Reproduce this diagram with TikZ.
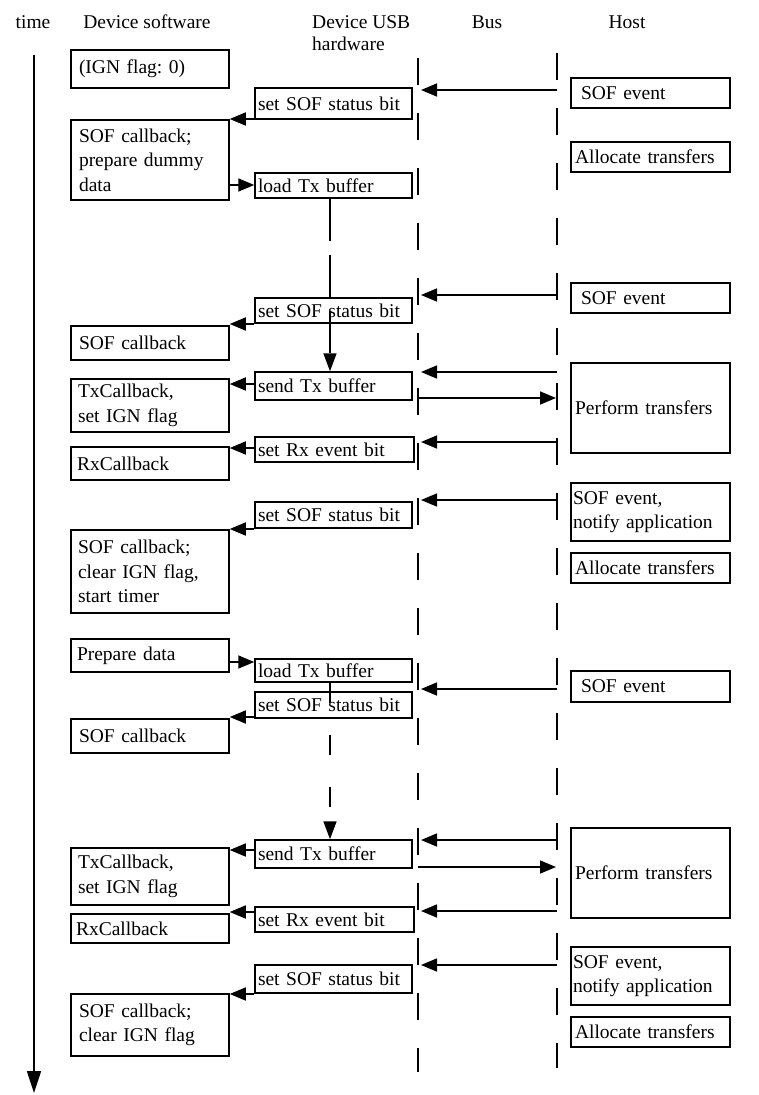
\documentclass[tikz,border=0pt]{standalone}
\usepackage{fontspec}
\setmainfont{Liberation Serif}
\frenchspacing
\usetikzlibrary{arrows.meta}
\tikzset{
  box/.style={draw, line width=1.5pt, inner ysep=0pt, align=left,
    font=\fontsize{19.5}{24.5}\selectfont},
  hdr/.style={font=\fontsize{19.5}{24}\selectfont, inner sep=0pt},
  arr/.style={line width=1.6pt, -{Triangle[length=16pt,width=13pt]}},
  life/.style={line width=1.7pt, dash pattern=on 27pt off 28pt},
}
\newcommand\bx[7]{%
  \pgfmathsetmacro\bxw{#4-#2}%
  \pgfmathsetmacro\bxh{#5-#3}%
  \pgfmathsetmacro\bxt{#4-#2-2*#6}%
  \node[box, inner xsep=#6pt, minimum width=\bxw pt, minimum height=\bxh pt,
    text width=\bxt pt] (#1) at ({(#2+#4)/2},{(#3+#5)/2}) {#7};}
\begin{document}
\begin{tikzpicture}[x=1pt,y=-1pt]
\useasboundingbox[fill=white] (0,0) rectangle (758,1095);

% headers
\node[hdr, anchor=base] (htime) at (33,28) {time};
\node[hdr, anchor=base] (hsw) at (147,28) {Device software};
\node[hdr, anchor=base west] (husb1) at (312,28) {Device USB};
\node[hdr, anchor=base west] (husb2) at (312,50) {hardware};
\node[hdr, anchor=base] (hbus) at (487,28) {Bus};
\node[hdr, anchor=base] (hhost) at (627,28) {Host};

% time axis
\coordinate (t0) at (34,55);
\coordinate (t1) at (34,1093);
\draw[line width=1.7pt, -{Triangle[length=22pt,width=14pt]}] (t0) -- (t1);

% lifelines
\coordinate (bl0) at (418,58);
\coordinate (bl1) at (418,1072);
\coordinate (br0) at (557,53);
\coordinate (br1) at (557,1068);
\draw[life] (bl0) -- (bl1);
\draw[life] (br0) -- (br1);

% device software boxes
\bx{ign}{71}{50}{229}{88}{8}{(IGN flag: 0)}
\bx{cb1}{71}{120}{229}{200}{8}{SOF callback;\\prepare dummy\\data}
\bx{cb2}{71}{326}{229}{360}{8}{SOF callback}
\bx{tx1}{71}{379}{229}{432}{7}{TxCallback,\\set IGN flag}
\bx{rx1}{71}{447}{229}{480}{6}{RxCallback}
\bx{cb3}{71}{530}{229}{613}{7}{SOF callback;\\clear IGN flag,\\start timer}
\bx{prep}{71}{639}{229}{672}{6}{Prepare data}
\bx{cb4}{71}{719}{229}{753}{8}{SOF callback}
\bx{tx2}{71}{848}{229}{905}{7}{TxCallback,\\set IGN flag}
\bx{rx2}{71}{914}{229}{943}{5}{RxCallback}
\bx{cb5}{71}{994}{229}{1056}{8}{SOF callback;\\clear IGN flag}

% USB hardware boxes
\bx{s1}{255}{88}{412}{119}{3}{set SOF status bit}
\bx{ld1}{255}{173}{412}{198}{3}{load Tx buffer}
\bx{s2}{255}{298}{412}{323}{3}{set SOF status bit}
\bx{snd1}{255}{372}{412}{400}{3}{send Tx buffer}
\bx{rxe1}{255}{437}{414}{462}{3}{set Rx event bit}
\bx{s3}{255}{502}{412}{528}{3}{set SOF status bit}
\bx{ld2}{255}{659}{412}{682}{3}{load Tx buffer}
\bx{s4}{255}{692}{412}{718}{3}{set SOF status bit}
\bx{snd2}{255}{840}{412}{868}{3}{send Tx buffer}
\bx{rxe2}{255}{907}{414}{932}{3}{set Rx event bit}
\bx{s5}{255}{965}{412}{993}{3}{set SOF status bit}

% host boxes
\bx{h1}{571}{78}{730}{108}{10}{SOF event}
\bx{a1}{571}{142}{730}{172}{4}{Allocate transfers}
\bx{h2}{571}{283}{730}{313}{10}{SOF event}
\bx{p1}{571}{363}{730}{453}{4}{Perform transfers}
\bx{h3}{571}{483}{730}{541}{2}{SOF event,\\notify application}
\bx{a2}{571}{553}{730}{583}{4}{Allocate transfers}
\bx{h4}{571}{671}{730}{702}{10}{SOF event}
\bx{p2}{571}{828}{730}{918}{4}{Perform transfers}
\bx{h5}{571}{947}{730}{1005}{2}{SOF event,\\notify application}
\bx{a3}{571}{1017}{730}{1047}{4}{Allocate transfers}

% host -> USB arrows
\foreach \y [count=\i] in {90,295,372,442,500,689,840,911,965}{
  \coordinate (hr\i) at (557,\y);
  \coordinate (hl\i) at (421,\y);
  \draw[arr] (hr\i) -- (hl\i);
}
% USB -> host arrows
\foreach \y [count=\i] in {398,867}{
  \coordinate (ul\i) at (418,\y);
  \coordinate (ur\i) at (556,\y);
  \draw[arr] (ul\i) -- (ur\i);
}

% USB -> device software
\draw[arr] (s1.west |- 0,119) -- (cb1.east |- 0,119);
\draw[arr] (s2.west |- 0,324) -- (cb2.east |- 0,324);
\draw[arr] (snd1.west |- 0,384) -- (tx1.east |- 0,384);
\draw[arr] (rxe1.west |- 0,448) -- (rx1.east |- 0,448);
\draw[arr] (s3.west |- 0,529) -- (cb3.east |- 0,529);
\draw[arr] (s4.west |- 0,717) -- (cb4.east |- 0,717);
\draw[arr] (snd2.west |- 0,850) -- (tx2.east |- 0,850);
\draw[arr] (rxe2.west |- 0,912) -- (rx2.east |- 0,912);
\draw[arr] (s5.west |- 0,994) -- (cb5.east |- 0,994);

% device software -> USB
\draw[arr] (cb1.east |- 0,185) -- (ld1.west |- 0,185);
\draw[arr] (prep.east |- 0,662) -- (ld2.west |- 0,662);

% Tx buffer flow
\draw[line width=1.6pt, dash pattern=on 42pt off 14pt, -{Triangle[length=18pt,width=13pt]}]
  (ld1.south -| 330,0) -- (snd1.north -| 330,0);
\draw[line width=1.6pt, dash pattern=on 20pt off 32pt, -{Triangle[length=18pt,width=13pt]}]
  (ld2.south -| 330,0) -- (snd2.north -| 330,0);
\end{tikzpicture}
\end{document}
